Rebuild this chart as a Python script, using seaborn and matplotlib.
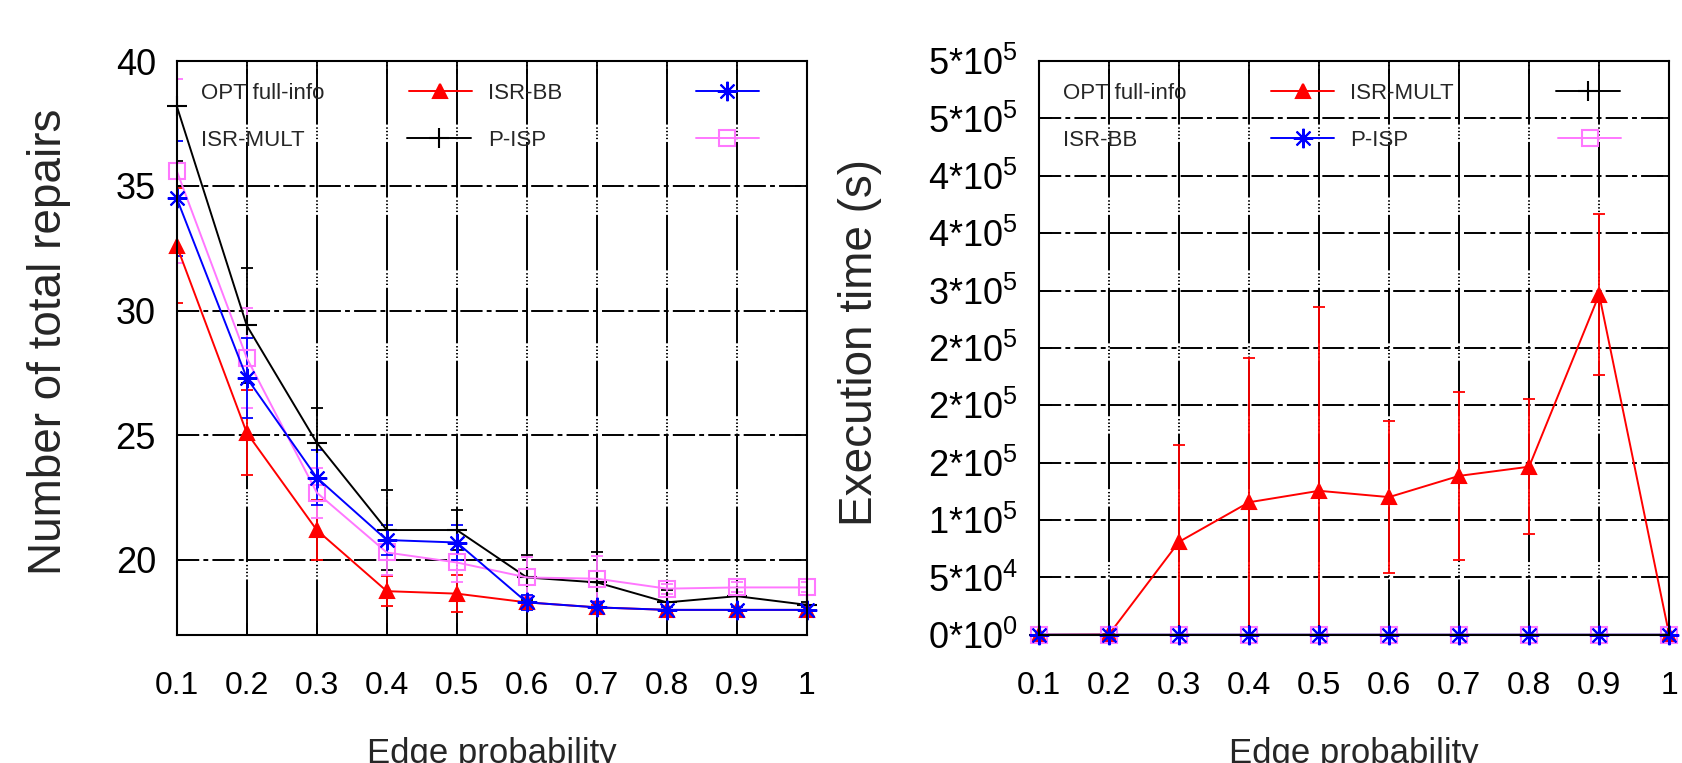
import matplotlib
matplotlib.use("Agg")
import matplotlib.pyplot as plt
from matplotlib.legend import Legend
import seaborn as sns

# ---------------- data ----------------
edge_prob = [0.1, 0.2, 0.3, 0.4, 0.5, 0.6, 0.7, 0.8, 0.9, 1.0]
x_tick_labels = ["0.1", "0.2", "0.3", "0.4", "0.5", "0.6", "0.7", "0.8", "0.9", "1"]

# Left panel: number of total repairs
rep_opt = [32.6, 25.1, 21.2, 18.75, 18.65, 18.3, 18.1, 18.0, 18.0, 18.0]
rep_opt_err = [2.3, 1.7, 1.2, 0.6, 0.75, 0.2, 0.1, 0.1, 0.1, 0.1]
rep_isrbb = [34.5, 27.3, 23.3, 20.8, 20.7, 18.3, 18.1, 18.0, 18.0, 18.0]
rep_isrbb_err = [2.3, 1.6, 1.1, 0.6, 0.7, 0.3, 0.2, 0.1, 0.1, 0.1]
rep_isrmult = [38.2, 29.4, 24.7, 21.2, 21.2, 19.3, 19.1, 18.3, 18.55, 18.2]
rep_isrmult_err = [2.2, 2.3, 1.4, 1.6, 0.8, 0.9, 1.2, 0.5, 0.7, 0.1]
rep_pisp = [35.6, 28.1, 22.7, 20.3, 19.9, 19.3, 19.25, 18.85, 18.9, 18.9]
rep_pisp_err = [3.7, 2.0, 1.0, 0.9, 0.8, 0.8, 0.9, 0.2, 0.2, 0.2]
rep_yticks = [20, 25, 30, 35, 40]

# Right panel: execution time (s)
time_opt = [0, 300, 81000, 115500, 125500, 120000, 138500, 146500, 296500, 0]
time_opt_err = [0, 200, 84000, 126000, 160000, 66000, 73000, 59000, 70000, 0]
time_isrbb = [1, 2, 3, 4, 5, 6, 7, 8, 9, 10]
time_isrbb_err = [0, 0, 1, 1, 1, 1, 1, 1, 1, 1]
time_isrmult = [2, 3, 5, 8, 10, 12, 14, 16, 18, 20]
time_isrmult_err = [1, 1, 2, 3, 3, 4, 4, 5, 5, 6]
time_pisp = [1, 1, 2, 2, 3, 3, 4, 4, 5, 5]
time_pisp_err = [0, 0, 1, 1, 1, 1, 1, 1, 1, 1]
time_yticks = [0, 50000, 100000, 150000, 200000, 250000, 300000, 350000, 400000, 450000, 500000]
time_ytick_labels = ["0*10$^{0}$", "5*10$^{4}$", "1*10$^{5}$", "2*10$^{5}$", "2*10$^{5}$",
                     "2*10$^{5}$", "3*10$^{5}$", "4*10$^{5}$", "4*10$^{5}$", "5*10$^{5}$",
                     "5*10$^{5}$"]

# ---------------- style ----------------
sns.set_theme(style="ticks")
plt.rcParams["font.family"] = ["Liberation Sans", "DejaVu Sans"]
plt.rcParams["mathtext.fontset"] = "custom"
plt.rcParams["mathtext.rm"] = "Liberation Sans"
plt.rcParams["mathtext.it"] = "Liberation Sans:italic"
plt.rcParams["mathtext.bf"] = "Liberation Sans:bold"
plt.rcParams["axes.edgecolor"] = "black"
plt.rcParams["axes.linewidth"] = 1.5
plt.rcParams["lines.scale_dashes"] = False

RED = "#ff0000"
BLUE = "#0000ff"
BLACK = "#000000"
PINK = "#ff77ff"
STAR = (8, 2, 0)

fig = plt.figure(figsize=(16.83, 7.63), dpi=100)
ax1 = fig.add_axes([0.105, 0.168, 0.3745, 0.752])
ax2 = fig.add_axes([0.6173, 0.168, 0.3745, 0.752])


def draw(ax, y, err, color, marker, ms, mfc, label):
    ax.errorbar(edge_prob, y, yerr=err, fmt="none", ecolor=color,
                elinewidth=1.3, capsize=4.5, capthick=1.3, zorder=3)
    sns.lineplot(x=edge_prob, y=y, ax=ax, color=color, marker=marker,
                 markersize=ms, markerfacecolor=mfc, markeredgecolor=color,
                 markeredgewidth=1.5, linewidth=1.4, legend=False,
                 errorbar=None, zorder=4)
    line = ax.lines[-1]
    line.set_clip_on(False)
    line.set_label(label)
    return line


def style_axes(ax):
    ax.set_xlim(0.1, 1.0)
    ax.set_xticks(edge_prob)
    ax.set_xticklabels(x_tick_labels)
    ax.tick_params(axis="both", which="major", direction="in", length=9,
                   width=1.3, top=True, right=True, labelsize=26,
                   colors="black")
    ax.tick_params(axis="x", pad=26, labelsize=23)
    ax.tick_params(axis="y", pad=15)
    ax.yaxis.grid(True, color="black", linewidth=1.4,
                  linestyle=(0, (16, 3, 3.5, 3)))
    ax.xaxis.grid(True, color="black", linewidth=1.4,
                  linestyle=(0, (40, 2, 1, 1.5, 1, 1.5, 1, 1.5, 1, 2)))
    ax.set_axisbelow(True)
    for s in ax.spines.values():
        s.set_color("black")
        s.set_linewidth(1.5)
        s.set_zorder(5)
    ax.set_xlabel("Edge probability", fontsize=25)
    ax.xaxis.set_label_coords(0.5, -0.178)


# gnuplot-style key: text left-justified in a fixed-width column, sample after it
LEG_FS = 16
TEXT_EM = {"OPT full-info": 5.557, "ISR-MULT": 4.722, "ISR-BB": 3.334, "P-ISP": 2.612}
COL_X = [0.039, 0.494]
ROW_Y = [0.962, 0.880]


def key_entry(ax, handle, label, col, row):
    gap = 3.78 + (TEXT_EM["OPT full-info"] - TEXT_EM[label])
    leg = Legend(ax, [handle], [label], loc="upper left",
                 bbox_to_anchor=(COL_X[col], ROW_Y[row]), frameon=False,
                 fontsize=LEG_FS, handlelength=2.85, handletextpad=gap,
                 borderaxespad=0.0, borderpad=0.0, markerfirst=False,
                 numpoints=1)
    ax.add_artist(leg)


# Left panel
h_opt = draw(ax1, rep_opt, rep_opt_err, RED, "^", 10, RED, "OPT full-info")
h_mult = draw(ax1, rep_isrmult, rep_isrmult_err, BLACK, "+", 15, BLACK, "ISR-MULT")
h_pisp = draw(ax1, rep_pisp, rep_pisp_err, PINK, "s", 12, "none", "P-ISP")
h_bb = draw(ax1, rep_isrbb, rep_isrbb_err, BLUE, STAR, 14, BLUE, "ISR-BB")
style_axes(ax1)
ax1.set_ylim(17, 40)
ax1.set_yticks(rep_yticks)
ax1.set_ylabel("Number of total repairs", fontsize=33)
ax1.yaxis.set_label_coords(-0.168, 0.51)
key_entry(ax1, h_opt, "OPT full-info", 0, 0)
key_entry(ax1, h_mult, "ISR-MULT", 0, 1)
key_entry(ax1, h_bb, "ISR-BB", 1, 0)
key_entry(ax1, h_pisp, "P-ISP", 1, 1)

# Right panel
t_opt = draw(ax2, time_opt, time_opt_err, RED, "^", 10, RED, "OPT full-info")
t_mult = draw(ax2, time_isrmult, time_isrmult_err, BLACK, "+", 15, BLACK, "ISR-MULT")
t_pisp = draw(ax2, time_pisp, time_pisp_err, PINK, "s", 12, "none", "P-ISP")
t_bb = draw(ax2, time_isrbb, time_isrbb_err, BLUE, STAR, 14, BLUE, "ISR-BB")
style_axes(ax2)
ax2.set_ylim(0, 500000)
ax2.set_yticks(time_yticks)
ax2.set_yticklabels(time_ytick_labels)
ax2.set_ylabel("Execution time (s)", fontsize=33)
ax2.yaxis.set_label_coords(-0.249, 0.51)
key_entry(ax2, t_opt, "OPT full-info", 0, 0)
key_entry(ax2, t_bb, "ISR-BB", 0, 1)
key_entry(ax2, t_mult, "ISR-MULT", 1, 0)
key_entry(ax2, t_pisp, "P-ISP", 1, 1)

fig.savefig("out.png", dpi=100)
